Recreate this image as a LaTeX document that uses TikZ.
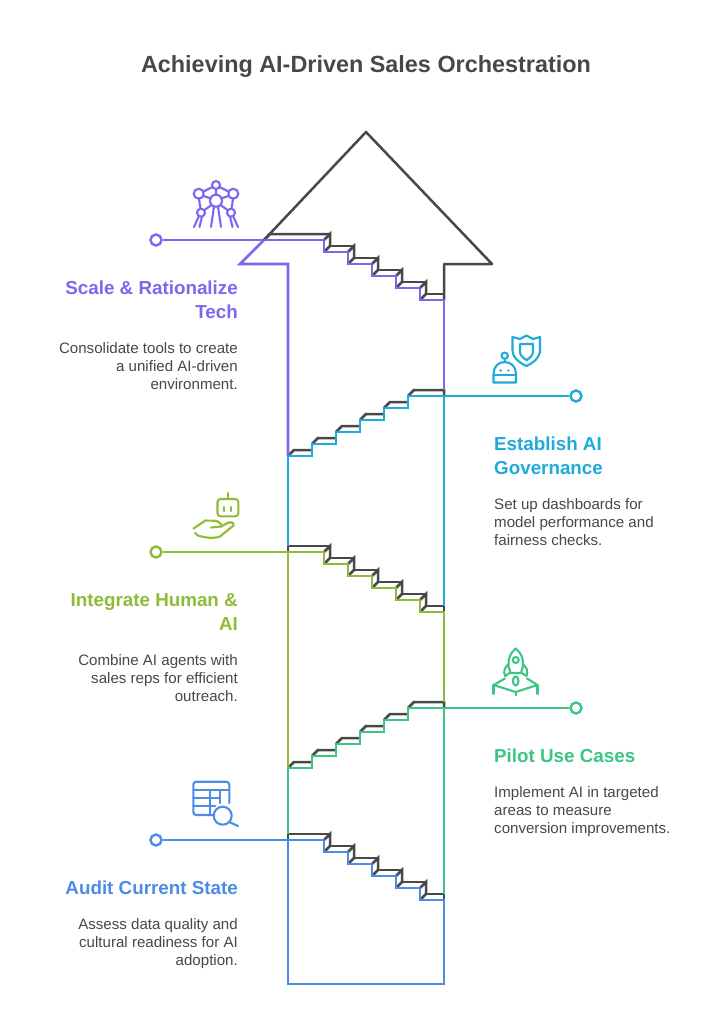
\documentclass[tikz,border=0pt]{standalone}
\usepackage{fontspec}
\setmainfont{Liberation Sans}
\definecolor{ink}{HTML}{484848}
\definecolor{cPurple}{HTML}{7B68EE}
\definecolor{cCyan}{HTML}{1EAADB}
\definecolor{cOlive}{HTML}{8FBC37}
\definecolor{cGreen}{HTML}{3CC583}
\definecolor{cBlue}{HTML}{4A8CE8}
\newcommand{\stairsDown}{-- ++(0,12) -- ++(24,0) -- ++(0,12) -- ++(24,0) -- ++(0,12) -- ++(24,0) -- ++(0,12) -- ++(24,0) -- ++(0,12) -- ++(24,0)}
\newcommand{\inkDown}[2]{%
  \draw[inkline] (#1,#2) -- ++(0,-6) -- (330,#2-6);
  \foreach \k in {0,...,4}{
    \draw[inkline] (324+24*\k,#2+12*\k) -- ++(6,-6) -- ++(0,12) -- ++(-6,6);
    \ifnum\k<4 \draw[inkline] (330+24*\k,#2+12*\k+6) -- ++(24,0); \else \draw[inkline] (426,#2+54) -- (444,#2+54) -- (444,#2+60); \fi
  }}
\newcommand{\inkUp}[1]{%
  \foreach \k in {0,...,4}{
    \draw[inkline] (288+24*\k,#1-12*\k) -- ++(6,-6) -- ++(18,0);
  }
  \draw[inkline] (408,#1-60) -- ++(6,-6) -- (444,#1-66) -- (444,#1-60);}
\tikzset{
  x=1pt,y=-1pt,
  inkline/.style={draw=ink,line width=2.5pt,line join=miter},
  flow/.style={line width=2.6pt,line join=miter},
  icon/.style={line width=2.1pt,line cap=round,line join=round},
  dotnode/.style={circle,draw,fill=white,line width=2.4pt,minimum size=11pt,inner sep=0pt},
  headL/.style={anchor=north east,align=right,inner sep=0pt,font=\fontsize{18.8}{24}\selectfont\bfseries},
  headR/.style={anchor=north west,align=left,inner sep=0pt,font=\fontsize{18.8}{24}\selectfont\bfseries},
  bodyL/.style={anchor=north east,align=right,inner sep=0pt,text=ink,font=\fontsize{15.1}{18}\selectfont},
  bodyR/.style={anchor=north west,align=left,inner sep=0pt,text=ink,font=\fontsize{15.1}{18}\selectfont},
}
\newcommand{\hs}{\rule{0pt}{15pt}}
\newcommand{\bs}{\rule{0pt}{11pt}}
\begin{document}
\begin{tikzpicture}
\useasboundingbox (0,0) rectangle (727,1009);
\fill[white] (0,0) rectangle (727,1009);
\node[text=ink,font=\fontsize{23.4}{28}\selectfont\bfseries] (title) at (366,67) {Achieving AI-Driven Sales Orchestration};

\node[dotnode,draw=cPurple] (dotScale) at (156,240) {};
\node[dotnode,draw=cCyan] (dotGov) at (576,396) {};
\node[dotnode,draw=cOlive] (dotHuman) at (156,552) {};
\node[dotnode,draw=cGreen] (dotPilot) at (576,708) {};
\node[dotnode,draw=cBlue] (dotAudit) at (156,840) {};

% arrow outline
\coordinate (tip) at (366,132);
\coordinate (headL) at (240,264);
\coordinate (headR) at (492,264);
\draw[inkline,line join=round] (264,240) -- (tip) -- (headR) -- (444,264) -- (444,300);

% ink edges of the steps, under the coloured lines
\draw[inkline] (264,240) -- (270,234) -- (330,234);
\foreach \k in {0,...,4}{
  \draw[inkline] (324+24*\k,240+12*\k) -- ++(6,-6) -- ++(0,12) -- ++(-6,6);
}
\foreach \k in {0,...,3}{\draw[inkline] (330+24*\k,246+12*\k) -- ++(24,0);}
\draw[inkline] (426,294) -- (444,294);
\inkUp{456}
\inkDown{288}{552}
\inkUp{768}
\inkDown{288}{840}

% coloured stairs
\draw[flow,cPurple] (dotScale.east) -- (324,240) \stairsDown -- (444,390);
\draw[flow,cPurple] (264,240) -- (headL) -- (288,264) -- (288,456);
\draw[flow,cCyan] (444,396) -- (444,606);
\draw[flow,cCyan] (288,546) -- (288,456) -- (312,456) -- (312,444) -- (336,444) -- (336,432) -- (360,432) -- (360,420) -- (384,420) -- (384,408) -- (408,408) -- (408,396) -- (dotGov.west);
\draw[flow,cOlive] (dotHuman.east) -- (324,552) \stairsDown -- (444,702);
\draw[flow,cOlive] (288,552) -- (288,768);
\draw[flow,cGreen] (444,708) -- (444,894);
\draw[flow,cGreen] (288,834) -- (288,768) -- (312,768) -- (312,756) -- (336,756) -- (336,744) -- (360,744) -- (360,732) -- (384,732) -- (384,720) -- (408,720) -- (408,708) -- (dotPilot.west);
\draw[flow,cBlue] (dotAudit.east) -- (324,840) \stairsDown -- (444,984) -- (288,984) -- (288,840);

% texts
\node[headL,text=cPurple] (tScale) at (238,279) {\hs Scale \& Rationalize\\Tech};
\node[bodyL] (bScale) at (238,342) {\bs Consolidate tools to create\\a unified AI-driven\\environment.};
\node[headR,text=cCyan] (tGov) at (494,435) {\hs Establish AI\\Governance};
\node[bodyR] (bGov) at (494,498) {\bs Set up dashboards for\\model performance and\\fairness checks.};
\node[headL,text=cOlive] (tHuman) at (238,591) {\hs Integrate Human \&\\AI};
\node[bodyL] (bHuman) at (238,654) {\bs Combine AI agents with\\sales reps for efficient\\outreach.};
\node[headR,text=cGreen] (tPilot) at (494,747) {\hs Pilot Use Cases};
\node[bodyR] (bPilot) at (494,786) {\bs Implement AI in targeted\\areas to measure\\conversion improvements.};
\node[headL,text=cBlue] (tAudit) at (238,879) {\hs Audit Current State};
\node[bodyL] (bAudit) at (238,918) {\bs Assess data quality and\\cultural readiness for AI\\adoption.};

% icon: atomium
\begin{scope}[icon,draw=cPurple]
  \draw (216,189) -- (216,195) (212.6,187) -- (203.5,191.5) (219.4,187) -- (228.5,191.5)
        (203.5,196) -- (211,198.5) (228.5,196) -- (221,198.5)
        (199,198.7) -- (200.5,208.7) (233,198.7) -- (231.5,208.7)
        (211.5,205) -- (204.5,210) (220.5,205) -- (227.5,210)
        (199,216) -- (194,227) (202,216.5) -- (199.5,227)
        (214,206.7) -- (211,227) (218,206.7) -- (221,227)
        (230,216.5) -- (232.5,227) (233,216) -- (238,227);
  \draw (216,185) circle (4) (198.7,193.7) circle (5) (233.3,193.7) circle (5)
        (216,200.7) circle (6) (201,212.7) circle (4) (231,212.7) circle (4);
\end{scope}
% icon: robot and shield
\begin{scope}[icon,draw=cCyan]
  \draw (512.5,337) -- (520,339) -- (526.5,335.5) -- (533,339) -- (540,337) -- (540,350)
        .. controls (540,358) and (533,363) .. (526.5,366) .. controls (520,363) and (512.5,358) .. (512.5,350) -- cycle;
  \draw (520,344) -- (533,344) -- (533,352) .. controls (533,355) and (530,358) .. (526.5,360) .. controls (523,358) and (520,355) .. (520,352) -- cycle;
  \draw (504.7,355.7) circle (3.2);
  \draw (504.7,359) -- (504.7,362);
  \draw (493.5,374) .. controls (493.5,367) and (498,362) .. (504.7,362) .. controls (511.5,362) and (516,367) .. (516,374)
        -- (516,382.5) -- (493.5,382.5) -- cycle;
  \draw (493.5,375) -- (516,375);
  \fill[cCyan] (500.7,370.5) circle (1.3) (508.3,370.5) circle (1.3);
\end{scope}
% icon: robot on a hand
\begin{scope}[icon,draw=cOlive]
  \draw (227.7,493) -- (227.7,499);
  \draw[rounded corners=3pt] (217.5,499) rectangle (238.3,516.3);
  \draw (224.3,507) -- (224.3,511) (231,507) -- (231,511);
  \draw (193.5,528.5) -- (205.5,520.5) -- (215,520.8) .. controls (219,521) and (223,525) .. (221,526.5) -- (211,527.5);
  \draw (195,533) -- (198,535.5) .. controls (204,537.5) and (213,539) .. (220,536.5) -- (233.5,525.5) .. controls (234,522.5) and (231,521.5) .. (228.5,522.5) -- (221,526.5);
\end{scope}
% icon: rocket on a platform
\begin{scope}[icon,draw=cGreen]
  \draw (515.7,648.5) .. controls (510,653) and (508,659) .. (508.5,666) -- (510.5,673) -- (521,673) -- (523,666) .. controls (523.5,659) and (521.5,653) .. (515.7,648.5) -- cycle;
  \draw (515.7,660) circle (3);
  \draw (508.7,664) .. controls (505,667) and (503,671) .. (505,676) -- (510.5,672.5);
  \draw (522.7,664) .. controls (526.5,667) and (528.5,671) .. (526.5,676) -- (521,672.5);
  \draw (515.7,681) ellipse (2.8 and 4.6);
  \draw (505,678.5) -- (493.5,685) -- (515.7,692) -- (537.5,685) -- (527,678.5);
  \draw (493.5,685) -- (493.5,694) (515.7,692) -- (515.7,695) (537.5,685) -- (537.5,694);
\end{scope}
% icon: table and magnifier
\begin{scope}[icon,draw=cBlue]
  \draw[rounded corners=3pt] (229.3,803) -- (229.3,781.7) -- (193.3,781.7) -- (193.3,815) -- (212.5,815);
  \draw (193.3,790) -- (229.3,790) (193.3,797.7) -- (220,797.7) (193.3,805.7) -- (215,805.7)
        (210,790) -- (210,815) (220,790) -- (220,803);
  \draw (222.7,815.7) circle (9);
  \draw (229.2,822) -- (238,826);
\end{scope}
\end{tikzpicture}
\end{document}
